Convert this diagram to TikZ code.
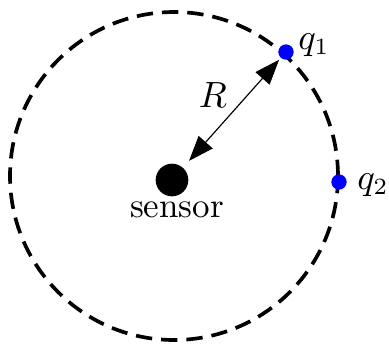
\documentclass[tikz,border=0pt]{standalone}
\usetikzlibrary{arrows.meta}
\begin{document}
\begin{tikzpicture}[x=0.3pt,y=-0.3pt,
  sensordot/.style={circle,fill=black,inner sep=0pt,minimum size=9.8pt},
  pointdot/.style={circle,fill=blue,inner sep=0pt,minimum size=4.6pt},
  lbl/.style={inner sep=0pt,font=\fontsize{10.5}{12}\selectfont},
  ring/.style={draw=black,line width=1.1pt,dash pattern=on 4.9pt off 2.7pt},
  radius arrow/.style={draw=black,line width=0.35pt,{Triangle[length=7.5pt,width=5.6pt]}-{Triangle[length=7.5pt,width=5.6pt]},shorten <=2.6pt,shorten >=0.6pt}]
\useasboundingbox[fill=white] (0,0) rectangle (389,344);
\coordinate (c) at (174,176);
\draw[ring] (c) circle[radius=49.2pt];
\node[sensordot] (s) at (172,180) {};
\node[lbl,anchor=north] (slabel) at (177,201) {sensor};
\node[pointdot] (q1) at (286,52) {};
\node[pointdot] (q2) at (339,182) {};
\node[lbl] (q1label) at (314,45) {$q_1$};
\node[lbl] (q2label) at (373,185) {$q_2$};
\draw[radius arrow] (s) -- (q1);
\node[lbl] (rlabel) at (213,95) {$R$};
\end{tikzpicture}
\end{document}
